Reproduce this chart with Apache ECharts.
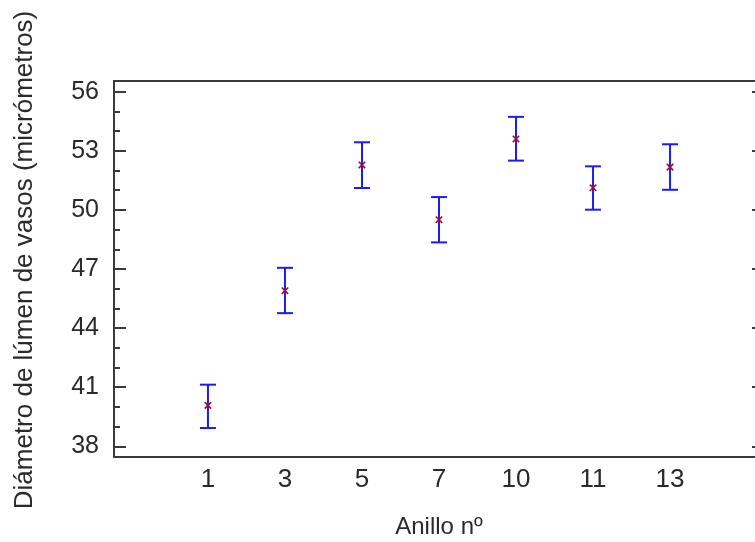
<!DOCTYPE html>
<html>
<head>
<meta charset="utf-8">
<script src="https://cdn.jsdelivr.net/npm/echarts@6/dist/echarts.min.js"></script>
<style>html,body{margin:0;padding:0;background:#fff;}#c{width:755px;height:542px;}</style>
</head>
<body>
<div id="c"></div>
<script>
const categories = ['1', '3', '5', '7', '10', '11', '13'];
const means = [40.08, 45.90, 52.28, 49.50, 53.60, 51.12, 52.17];
const lows  = [38.93, 44.76, 51.11, 48.35, 52.50, 50.01, 51.02];
const highs = [41.13, 47.06, 53.43, 50.65, 54.72, 52.21, 53.33];
const yMajorTicks = [38, 41, 44, 47, 50, 53, 56];
const yMinorTicks = [39, 40, 42, 43, 45, 46, 48, 49, 51, 52, 54, 55];
const xTitle = 'Anillo nº';
const yTitle = 'Diámetro de lúmen de vasos (micrómetros)';

const positions = categories.map((c, i) => i + 1);
const data = positions.map((p, i) => [p, means[i], lows[i], highs[i]]);

const FONT = '"Liberation Sans", Arial, sans-serif';
const AX = '#3a3a3a';
const TXT = '#2a2a2a';
const YMIN = 37.46, YMAX = 56.54, XMIN = -0.22, XMAX = 8.22;
const gridRect = { left: 114, top: 81, right: -9, bottom: 85, containLabel: false, outerBoundsMode: 'none' };

const chart = echarts.init(document.getElementById('c'), null, { renderer: 'canvas' });
chart.setOption({
  animation: false,
  backgroundColor: '#ffffff',
  grid: [Object.assign({}, gridRect), Object.assign({}, gridRect)],
  xAxis: [{
    gridIndex: 0, type: 'value', position: 'bottom', min: XMIN, max: XMAX,
    axisLine: { show: true, onZero: false, lineStyle: { color: AX, width: 2 } },
    axisTick: { show: false },
    splitLine: { show: false },
    axisLabel: {
      customValues: positions,
      formatter: v => categories[Math.round(v) - 1] || '',
      fontFamily: FONT, fontSize: 26, color: TXT, margin: 10
    },
    name: xTitle, nameLocation: 'middle', nameGap: 58,
    nameTextStyle: { fontFamily: FONT, fontSize: 24, color: TXT }
  }, {
    gridIndex: 1, type: 'value', position: 'top', min: XMIN, max: XMAX,
    axisLine: { show: true, onZero: false, lineStyle: { color: AX, width: 2 } },
    axisTick: { show: false }, axisLabel: { show: false }, splitLine: { show: false }
  }],
  yAxis: [{
    gridIndex: 0, type: 'value', position: 'left', min: YMIN, max: YMAX,
    axisLine: { show: true, onZero: false, lineStyle: { color: AX, width: 2 } },
    axisTick: { show: true, inside: true, length: 12, customValues: yMajorTicks, lineStyle: { color: AX, width: 2 } },
    axisLabel: { customValues: yMajorTicks, fontFamily: FONT, fontSize: 25, color: TXT, margin: 15 },
    splitLine: { show: false },
    name: yTitle, nameLocation: 'middle', nameGap: 76, nameRotate: 90,
    nameTextStyle: { fontFamily: FONT, fontSize: 26, color: TXT, padding: [0, 0, 0, 18] }
  }, {
    gridIndex: 0, type: 'value', position: 'right', min: YMIN, max: YMAX,
    axisLine: { show: true, onZero: false, lineStyle: { color: AX, width: 2 } },
    axisTick: { show: true, inside: true, length: 12, customValues: yMajorTicks, lineStyle: { color: AX, width: 2 } },
    axisLabel: { show: false }, splitLine: { show: false }
  }, {
    gridIndex: 1, type: 'value', position: 'left', min: YMIN, max: YMAX,
    axisLine: { show: false, onZero: false },
    axisTick: { show: true, inside: true, length: 6, customValues: yMinorTicks, lineStyle: { color: AX, width: 2 } },
    axisLabel: { show: false }, splitLine: { show: false }
  }],
  series: [{
    type: 'custom',
    xAxisIndex: 0, yAxisIndex: 0,
    data: data,
    encode: { x: 0, y: [1, 2, 3] },
    renderItem: function (params, api) {
      const x = api.value(0);
      const c = api.coord([x, api.value(1)]);
      const lo = api.coord([x, api.value(2)]);
      const hi = api.coord([x, api.value(3)]);
      const w = 8, s = 3.2;
      const blue = { stroke: '#1a1aff', lineWidth: 2 };
      const mk = { stroke: '#8a1050', lineWidth: 1.6 };
      return {
        type: 'group',
        children: [
          { type: 'line', shape: { x1: lo[0], y1: lo[1], x2: hi[0], y2: hi[1] }, style: blue },
          { type: 'line', shape: { x1: lo[0] - w, y1: lo[1], x2: lo[0] + w, y2: lo[1] }, style: blue },
          { type: 'line', shape: { x1: hi[0] - w, y1: hi[1], x2: hi[0] + w, y2: hi[1] }, style: blue },
          { type: 'line', shape: { x1: c[0] - s, y1: c[1] - s, x2: c[0] + s, y2: c[1] + s }, style: mk },
          { type: 'line', shape: { x1: c[0] - s, y1: c[1] + s, x2: c[0] + s, y2: c[1] - s }, style: mk },
          { type: 'line', shape: { x1: c[0], y1: c[1] - s - 0.5, x2: c[0], y2: c[1] + s + 0.5 }, style: mk }
        ]
      };
    }
  }]
});
</script>
</body>
</html>
